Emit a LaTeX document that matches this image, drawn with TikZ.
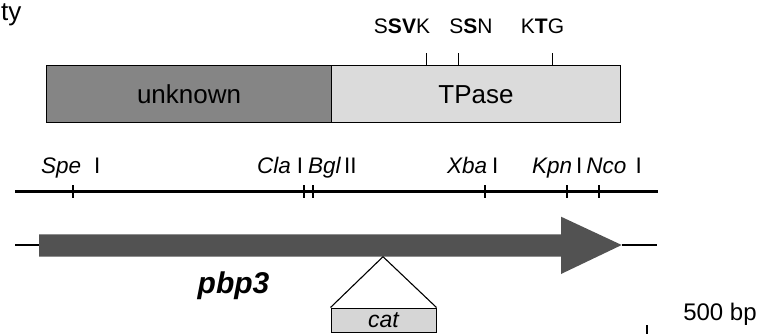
\documentclass[tikz,border=0pt]{standalone}
\usepackage{fontspec}
\setmainfont{Liberation Sans}
\newcommand\fsz[1]{\fontsize{#1}{#1}\selectfont}
\definecolor{unkgray}{gray}{0.52}
\definecolor{tpgray}{gray}{0.86}
\definecolor{genegray}{gray}{0.32}
\definecolor{catgray}{gray}{0.84}
\begin{document}
\begin{tikzpicture}[x=1pt,y=-1pt,
  dom/.style={draw=black, line width=1.4pt, minimum height=57pt, inner sep=0pt, anchor=north west, font=\fsz{26}},
  motif/.style={inner sep=0pt, font=\fsz{21}},
  mtick/.style={line width=1pt},
  mapline/.style={line width=2.6pt},
  rtick/.style={line width=2pt},
  site/.style={inner sep=0pt, anchor=base west, font=\fsz{22.5}},
  thinline/.style={line width=1.1pt},
  catbox/.style={draw=black, line width=1pt, fill=catgray, minimum width=105pt, minimum height=24pt, inner sep=0pt, font=\fsz{23}\itshape},
  lbl/.style={inner sep=0pt}
]
\useasboundingbox (0,0) rectangle (782,334);

% cropped label at top left
\node[lbl, anchor=base west, font=\fsz{26}] (ty) at (1,21) {ty};

% protein domains
\node[dom, fill=unkgray, minimum width=284.7pt] (unk) at (46,65) {unknown};
\node[dom, fill=tpgray, minimum width=289.3pt] (tpase) at (330.7,65) {TPase};

% motifs
\node[motif] (ssvk) at (402,26) {S\textbf{SV}K};
\node[motif] (ssn) at (471,26) {S\textbf{S}N};
\node[motif] (ktg) at (542.5,26) {K\textbf{T}G};
\coordinate (m1) at (426,65);
\coordinate (m2) at (458.7,65);
\coordinate (m3) at (552,65);
\draw[mtick] (m1) -- ++(0,-12);
\draw[mtick] (m2) -- ++(0,-12);
\draw[mtick] (m3) -- ++(0,-12);

% restriction map
\coordinate (rl) at (15,191.7);
\coordinate (rr) at (658,191.7);
\draw[mapline] (rl) -- (rr);
\foreach \x in {73,304,312.7,485.3,567.3,599}
  \draw[rtick] (\x,185) -- (\x,198);
\node[site] (spe) at (41,173.5) {\textit{Spe}\hspace{13pt}I};
\node[site] (cla) at (257,173.5) {\textit{Cla}\hspace{6pt}I\hspace{5pt}\textit{Bgl}\hspace{3pt}II};
\node[site] (xba) at (447,173.5) {\textit{Xba}\hspace{5pt}I};
\node[site] (kpn) at (532,173.5) {\textit{Kpn}\hspace{4pt}I\hspace{4pt}\textit{Nco}\hspace{9pt}I};

% gene arrow
\coordinate (gl) at (15,245);
\coordinate (gs) at (39,245);
\coordinate (gtip) at (621.7,245);
\coordinate (gr) at (657,245);
\fill[genegray] (39,234.3) -- (561,234.3) -- (561,216.7) -- (gtip) -- (561,274) -- (561,256.7) -- (39,256.7) -- cycle;
\draw[thinline] (gl) -- (gs);
\draw[thinline] (gtip) -- (gr);
\node[lbl, font=\fsz{30}\bfseries\itshape] (pbp) at (233.5,286) {pbp3};

% cat insertion
\coordinate (ins) at (383,256.7);
\node[catbox] (cat) at (383.5,320) {cat};
\draw[thinline] (ins) -- (cat.north west);
\draw[thinline] (ins) -- (cat.north east);

% scale
\node[lbl, font=\fsz{24}] (scale) at (720,314) {500 bp};
\coordinate (sb) at (647,325);
\draw[thinline] (sb) -- ++(0,9);
\end{tikzpicture}
\end{document}
